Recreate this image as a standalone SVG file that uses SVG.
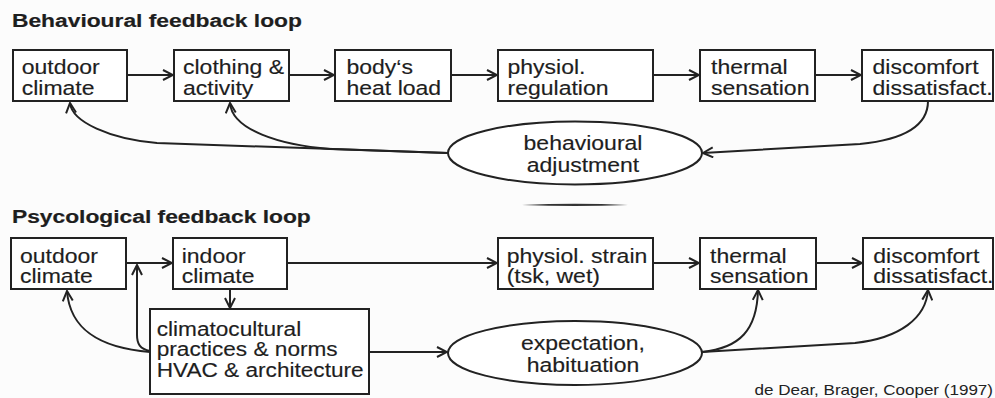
<svg xmlns="http://www.w3.org/2000/svg" width="995" height="398" viewBox="0 0 995 398">
<defs>
<style>
.bg{fill:#fcfcfc}
.box{fill:#ffffff;stroke:#222;stroke-width:2}
.ell{fill:#ffffff;stroke:#222;stroke-width:2}
.t{font-family:"Liberation Sans",Arial,sans-serif;font-size:19.5px;fill:#1e1e1e;stroke:#1e1e1e;stroke-width:0.15px}
.c{text-anchor:middle}
.h{font-family:"Liberation Sans",Arial,sans-serif;font-size:19px;font-weight:bold;fill:#1e1e1e;stroke:#1e1e1e;stroke-width:0.2px}
.cite{font-family:"Liberation Sans",Arial,sans-serif;font-size:14.2px;fill:#222;text-anchor:end}
.ln{fill:none;stroke:#222;stroke-width:2}
</style>
<marker id="ah" viewBox="0 0 12 12" refX="11" refY="6" markerWidth="12" markerHeight="12" markerUnits="userSpaceOnUse" orient="auto">
<path d="M1,1 L11,6 L1,11" fill="none" stroke="#222" stroke-width="2"/>
</marker>
</defs>
<rect class="bg" x="0" y="0" width="995" height="398"/>

<text class="h" transform="translate(12,27) scale(1.2,1)">Behavioural feedback loop</text>
<text class="h" transform="translate(12,223) scale(1.2,1)">Psycological feedback loop</text>
<path d="M522,205 Q575,202.5 628,205 Q575,207 522,205 Z" fill="#333"/>

<g id="connectors">
<path class="ln" d="M127,75 L173,75" marker-end="url(#ah)"/>
<path class="ln" d="M289,75 L334,75" marker-end="url(#ah)"/>
<path class="ln" d="M451,75 L497,75" marker-end="url(#ah)"/>
<path class="ln" d="M653,75 L699,75" marker-end="url(#ah)"/>
<path class="ln" d="M815,75 L861,75" marker-end="url(#ah)"/>
<path class="ln" d="M928,101 C928,128 900,140 860,144 L703,153" marker-end="url(#ah)"/>
<path class="ln" d="M448,153 L157,143 C110,139 72,122 70,103" marker-end="url(#ah)"/>
<path class="ln" d="M448,153 L330,149 C280,145 232,130 230,103" marker-end="url(#ah)"/>

<path class="ln" d="M126,263 L172,263" marker-end="url(#ah)"/>
<path class="ln" d="M287,263 L497,263" marker-end="url(#ah)"/>
<path class="ln" d="M653,263 L699,263" marker-end="url(#ah)"/>
<path class="ln" d="M816,263 L862,263" marker-end="url(#ah)"/>
<path class="ln" d="M230,289 L230,308" marker-end="url(#ah)"/>
<path class="ln" d="M150,352 C100,348 70,330 67,291" marker-end="url(#ah)"/>
<path class="ln" d="M150,351 C140,349 137,344 137,335 L137,265" marker-end="url(#ah)"/>
<path class="ln" d="M370,352 L447,352" marker-end="url(#ah)"/>
<path class="ln" d="M702,352 C740,348 757,330 758,290" marker-end="url(#ah)"/>
<path class="ln" d="M702,352 L855,343 C900,338 926,318 928,290" marker-end="url(#ah)"/>
</g>

<g id="b-outdoor">
<rect class="box" x="13" y="50" width="114" height="51"/>
<text class="t" transform="translate(21.7,74) scale(1.18,1)"><tspan x="0">outdoor</tspan><tspan x="0" dy="21">climate</tspan></text>
</g>
<g id="b-clothing">
<rect class="box" x="174" y="50" width="115" height="51"/>
<text class="t" transform="translate(183,74) scale(1.18,1)"><tspan x="0">clothing &amp;</tspan><tspan x="0" dy="21">activity</tspan></text>
</g>
<g id="b-heat">
<rect class="box" x="335" y="50" width="116" height="51"/>
<text class="t" transform="translate(346.5,74) scale(1.18,1)"><tspan x="0">body‘s</tspan><tspan x="0" dy="21">heat load</tspan></text>
</g>
<g id="b-physiol">
<rect class="box" x="498" y="50" width="155" height="51"/>
<text class="t" transform="translate(507.5,74) scale(1.18,1)"><tspan x="0">physiol.</tspan><tspan x="0" dy="21">regulation</tspan></text>
</g>
<g id="b-thermal">
<rect class="box" x="700" y="50" width="115" height="51"/>
<text class="t" transform="translate(711,74) scale(1.18,1)"><tspan x="0">thermal</tspan><tspan x="0" dy="21">sensation</tspan></text>
</g>
<g id="b-discomfort">
<rect class="box" x="862" y="50" width="131" height="51"/>
<text class="t" transform="translate(872.5,74) scale(1.18,1)"><tspan x="0">discomfort</tspan><tspan x="0" dy="21">dissatisfact.</tspan></text>
</g>
<g id="e-behav">
<ellipse class="ell" cx="575" cy="153" rx="127" ry="31.5"/>
<text class="t c" transform="translate(583,150) scale(1.18,1)"><tspan x="0">behavioural</tspan><tspan x="0" dy="22">adjustment</tspan></text>
</g>

<g id="p-outdoor">
<rect class="box" x="11" y="238" width="115" height="51"/>
<text class="t" transform="translate(20,263) scale(1.18,1)"><tspan x="0">outdoor</tspan><tspan x="0" dy="20">climate</tspan></text>
</g>
<g id="p-indoor">
<rect class="box" x="173" y="238" width="114" height="51"/>
<text class="t" transform="translate(181.7,263) scale(1.18,1)"><tspan x="0">indoor</tspan><tspan x="0" dy="20">climate</tspan></text>
</g>
<g id="p-strain">
<rect class="box" x="498" y="238" width="155" height="51"/>
<text class="t" transform="translate(506.7,263) scale(1.18,1)"><tspan x="0">physiol. strain</tspan><tspan x="0" dy="20">(tsk, wet)</tspan></text>
</g>
<g id="p-thermal">
<rect class="box" x="700" y="238" width="116" height="51"/>
<text class="t" transform="translate(710,263) scale(1.18,1)"><tspan x="0">thermal</tspan><tspan x="0" dy="20">sensation</tspan></text>
</g>
<g id="p-discomfort">
<rect class="box" x="863" y="238" width="130" height="51"/>
<text class="t" transform="translate(873.3,263) scale(1.18,1)"><tspan x="0">discomfort</tspan><tspan x="0" dy="20">dissatisfact.</tspan></text>
</g>
<g id="p-climatocultural">
<rect class="box" x="150" y="309" width="219" height="85"/>
<text class="t" transform="translate(156.7,336) scale(1.16,1)"><tspan x="0">climatocultural</tspan><tspan x="0" dy="20.3">practices &amp; norms</tspan><tspan x="0" dy="20.3">HVAC &amp; architecture</tspan></text>
</g>
<g id="p-expect">
<ellipse class="ell" cx="575" cy="353" rx="127" ry="32"/>
<text class="t c" transform="translate(583,350) scale(1.18,1)"><tspan x="0">expectation,</tspan><tspan x="0" dy="22">habituation</tspan></text>
</g>

<text class="cite" transform="translate(993,395) scale(1.2,1)">de Dear, Brager, Cooper (1997)</text>
</svg>
